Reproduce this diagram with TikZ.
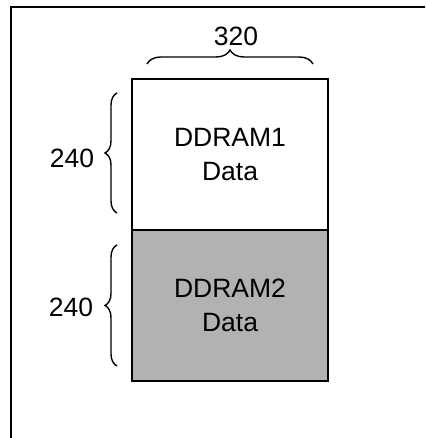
\documentclass[tikz,border=0pt]{standalone}
\usepackage{fontspec}
\setmainfont{Liberation Sans}
\usetikzlibrary{decorations.pathreplacing}
\definecolor{boxgray}{RGB}{178,178,178}
\tikzset{
  membox/.style={draw=black, line width=2pt, minimum width=196pt, minimum height=151pt, inner sep=0pt, outer sep=0pt, align=center, font=\fontsize{26.5}{34}\selectfont},
  bracedeco/.style={decorate, decoration={brace, amplitude=#1}, line width=1.4pt},
  lbl/.style={font=\fontsize{26.5}{30}\selectfont, inner sep=0pt}
}
\begin{document}
\begin{tikzpicture}[x=1pt,y=1pt]
\useasboundingbox (0,0) rectangle (425,438);
\clip (0,0) rectangle (425,438);
\fill[white] (0,0) rectangle (425,438);
% frame
\draw[line width=1.6pt] (11,-10) -- (11,431) -- (440,431);
% boxes
\node[membox, fill=white] (b1) at (230,283.5) {DDRAM1\\Data};
\node[membox, fill=boxgray, anchor=north] (b2) at (b1.south) {DDRAM2\\Data};
\draw[line width=2pt] (b1.south west) -- (b1.south east);
% top brace
\coordinate (t1) at (147,374);
\coordinate (t2) at (313,374);
\draw[bracedeco=14pt] (t1) -- (t2);
\node[lbl] (w) at (236,402) {320};
% left braces
\coordinate (l1a) at (117,225);
\coordinate (l1b) at (117,345);
\draw[bracedeco=12pt] (l1a) -- (l1b);
\node[lbl] (h1) at (72,280) {240};
\coordinate (l2a) at (117,72);
\coordinate (l2b) at (117,193);
\draw[bracedeco=12pt] (l2a) -- (l2b);
\node[lbl] (h2) at (71,131) {240};
\end{tikzpicture}
\end{document}
